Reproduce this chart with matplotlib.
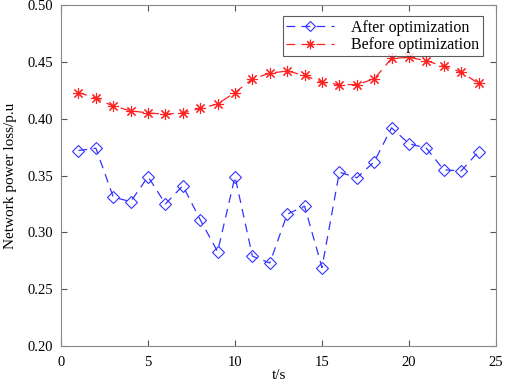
import matplotlib
matplotlib.use("Agg")
import matplotlib.pyplot as plt

plt.rcParams["font.family"] = ["Liberation Serif", "DejaVu Serif"]

t = list(range(1, 25))
after_opt = [0.372, 0.374, 0.331, 0.327, 0.349, 0.325, 0.341, 0.311, 0.283, 0.349,
             0.279, 0.273, 0.316, 0.323, 0.269, 0.353, 0.348, 0.362, 0.392, 0.378,
             0.374, 0.355, 0.354, 0.371]
before_opt = [0.423, 0.418, 0.411, 0.407, 0.405, 0.404, 0.405, 0.409, 0.413, 0.423,
              0.435, 0.440, 0.442, 0.438, 0.432, 0.430, 0.430, 0.435, 0.453, 0.454,
              0.451, 0.446, 0.441, 0.431]

fig = plt.figure(figsize=(5.05, 3.87), dpi=100)
ax = fig.add_axes([0.121, 0.106, 0.861, 0.881])

ax.plot(t, after_opt, linestyle=(0, (7, 5)), color="#3333ff", linewidth=0.9,
        marker="D", markersize=6, markerfacecolor="none", markeredgecolor="#3333ff",
        markeredgewidth=0.8, label="After optimization")
ax.plot(t, before_opt, linestyle=(0, (7, 5)), color="#ff2020", linewidth=0.9,
        marker=(8, 2, 0), markersize=8, markeredgewidth=0.8, label="Before optimization")

ax.set_xlim(0, 25)
ax.set_ylim(0.20, 0.50)
ax.set_xticks([0, 5, 10, 15, 20, 25])
ax.set_yticks([0.20, 0.25, 0.30, 0.35, 0.40, 0.45, 0.50])
ax.set_yticklabels([f"{v:.2f}" for v in ax.get_yticks()])
ax.tick_params(direction="in", top=True, right=True, labelsize=10.5, length=4,
               colors="#555555", labelcolor="black", pad=6)
ax.tick_params(axis="x", pad=7)
for s in ax.spines.values():
    s.set_color("#888888")
    s.set_linewidth(0.8)

ax.set_xlabel("t/s", fontsize=11, labelpad=0)
ax.set_ylabel("Network power loss/p.u", fontsize=11, labelpad=7)

leg = ax.legend(loc="upper right", fontsize=11.5, frameon=True, fancybox=False,
                edgecolor="#333333", handlelength=3.0, borderpad=0.2,
                labelspacing=0.1, handletextpad=1.1, markerscale=0.85,
                bbox_to_anchor=(0.988, 0.99))
leg.get_frame().set_linewidth(0.8)

fig.savefig("out.png", dpi=100)
